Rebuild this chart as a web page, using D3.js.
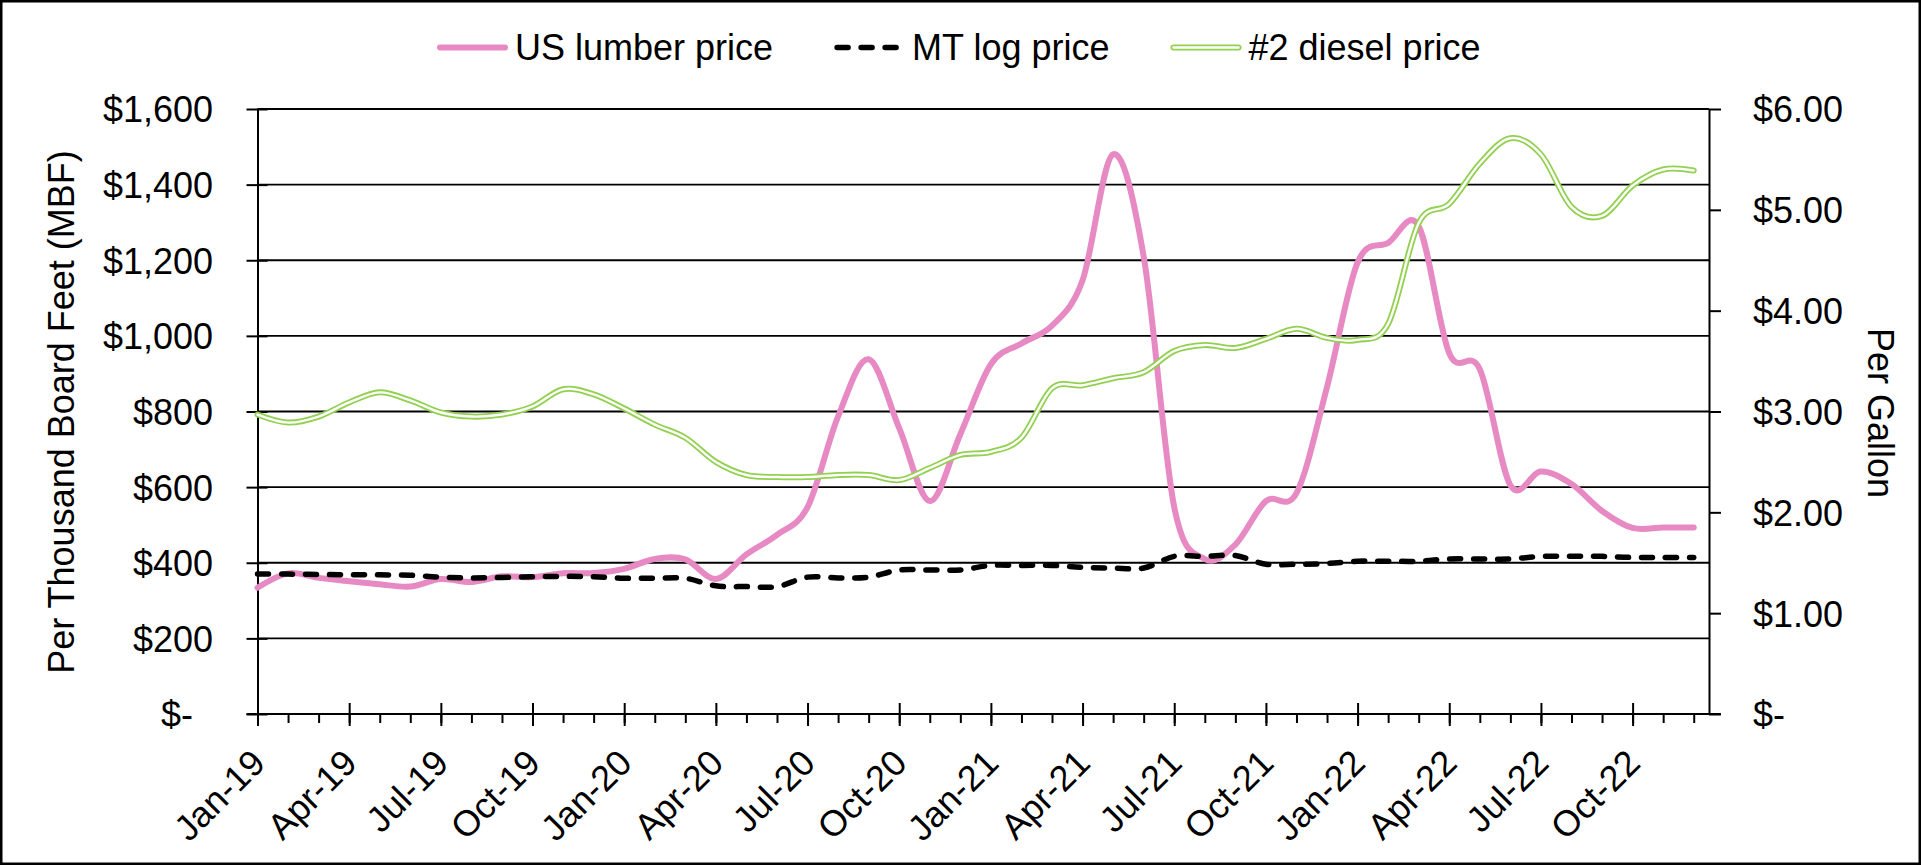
<!DOCTYPE html>
<html>
<head>
<meta charset="utf-8">
<script src="https://cdn.jsdelivr.net/npm/d3@7/dist/d3.min.js"></script>
<style>
  body { margin: 0; padding: 0; background: #fff; }
  svg { display: block; }
  text { font-family: "Liberation Sans", Arial, sans-serif; font-size: 36px; fill: #000; }
</style>
</head>
<body>
<div id="chart"></div>
<script>
// ~~~~~ data ~~~~~
var months = ["Jan-19","Feb-19","Mar-19","Apr-19","May-19","Jun-19","Jul-19","Aug-19","Sep-19","Oct-19","Nov-19","Dec-19",
              "Jan-20","Feb-20","Mar-20","Apr-20","May-20","Jun-20","Jul-20","Aug-20","Sep-20","Oct-20","Nov-20","Dec-20",
              "Jan-21","Feb-21","Mar-21","Apr-21","May-21","Jun-21","Jul-21","Aug-21","Sep-21","Oct-21","Nov-21","Dec-21",
              "Jan-22","Feb-22","Mar-22","Apr-22","May-22","Jun-22","Jul-22","Aug-22","Sep-22","Oct-22","Nov-22","Dec-22"];

// $ per MBF (left axis)
var lumber = [334,372,360,351,343,337,357,349,364,362,372,373,
              384,410,409,357,422,474,547,787,938,756,563,740,
              925,980,1027,1147,1480,1210,547,410,448,563,584,865,
              1194,1246,1290,954,912,605,641,608,537,492,493,493];

var mtLog = [370,370,369,368,368,367,362,360,361,363,364,363,
             359,359,359,339,337,337,362,360,362,381,381,381,
             393,393,393,388,386,386,417,417,419,396,396,398,
             404,404,404,410,410,410,417,417,417,414,414,414];

// $ per gallon (right axis)
var diesel = [2.97,2.89,2.95,3.09,3.19,3.11,2.99,2.95,2.97,3.05,3.22,3.17,
              3.03,2.87,2.74,2.50,2.37,2.35,2.35,2.37,2.37,2.32,2.44,2.57,
              2.60,2.74,3.23,3.26,3.33,3.39,3.60,3.66,3.63,3.72,3.82,3.73,
              3.71,3.87,4.87,5.06,5.46,5.71,5.55,5.03,4.94,5.24,5.40,5.39];

var leftTicks = [0,200,400,600,800,1000,1200,1400,1600];
var rightTicks = [0,1,2,3,4,5,6];
var quarterIdx = [0,3,6,9,12,15,18,21,24,27,30,33,36,39,42,45];

var seriesNames = ["US lumber price","MT log price","#2 diesel price"];
var pink = "#E78AC3", green = "#92D050";

// ~~~~~ setup ~~~~~
var W = 1921, H = 865;
var plotLeft = 257.5, plotRight = 1709, plotTop = 109, plotBottom = 714;

var svg = d3.select("#chart").append("svg").attr("width", W).attr("height", H);
svg.append("rect").attr("x", 1.25).attr("y", 1.25).attr("width", W - 2.5).attr("height", H - 2.5)
  .attr("fill", "#fff").attr("stroke", "#000").attr("stroke-width", 2.5);

var x = d3.scaleLinear().domain([0, 47.5]).range([plotLeft, plotRight]);
var yL = d3.scaleLinear().domain([0, 1600]).range([plotBottom, plotTop]);
var yR = d3.scaleLinear().domain([0, 6]).range([plotBottom, plotTop]);

// gridlines
svg.append("g").selectAll("line").data(leftTicks.filter(d => d > 0)).enter().append("line")
  .attr("x1", plotLeft).attr("x2", plotRight)
  .attr("y1", d => yL(d)).attr("y2", d => yL(d))
  .attr("stroke", "#000").attr("stroke-width", 1.8);

// left axis (ticks cross the axis)
var fmtL = d3.format(",");
var gL = svg.append("g").attr("transform", "translate(" + plotLeft + ",0)")
  .call(d3.axisLeft(yL).tickValues(leftTicks).tickSizeInner(11).tickSizeOuter(0).tickPadding(33.5)
    .tickFormat(d => d === 0 ? "$-" : "$" + fmtL(d)));
gL.selectAll(".tick line").attr("x1", 10).attr("stroke", "#000").attr("stroke-width", 2);
gL.selectAll(".tick text").attr("dy", "0.36em").attr("dx", d => d === 0 ? -20 : 0);

// right axis
var gR = svg.append("g").attr("transform", "translate(" + plotRight + ",0)")
  .call(d3.axisRight(yR).tickValues(rightTicks).tickSizeInner(12).tickSizeOuter(0).tickPadding(32)
    .tickFormat(d => d === 0 ? "$-" : "$" + d3.format(".2f")(d)));
gR.selectAll(".tick line").attr("stroke", "#000").attr("stroke-width", 2);
gR.selectAll(".tick text").attr("dy", "0.36em");

// bottom axis: monthly minor ticks, quarterly major ticks with labels
var gMinor = svg.append("g").attr("transform", "translate(0," + plotBottom + ")")
  .call(d3.axisBottom(x).tickValues(d3.range(months.length)).tickSizeInner(9).tickSizeOuter(0).tickFormat(""));
gMinor.selectAll(".tick line").attr("stroke", "#000").attr("stroke-width", 2);
gMinor.select(".domain").attr("d", "M" + (plotLeft - 11) + ",0H" + (plotRight + 12));

var gMajor = svg.append("g").attr("transform", "translate(0," + plotBottom + ")")
  .call(d3.axisBottom(x).tickValues(quarterIdx).tickSizeInner(12).tickSizeOuter(0).tickFormat(i => months[i]));
gMajor.select(".domain").remove();
gMajor.selectAll(".tick line").attr("y1", -11).attr("stroke", "#000").attr("stroke-width", 2);
gMajor.selectAll(".tick text")
  .attr("x", 0).attr("y", 0).attr("dy", "0.36em")
  .attr("transform", "translate(0,42) rotate(-45)")
  .style("text-anchor", "end");

svg.selectAll(".domain").attr("stroke", "#000").attr("stroke-width", 2);
svg.selectAll(".tick text").style("font-size", "36px").style("font-family", '"Liberation Sans", Arial, sans-serif');

// axis titles
svg.append("text").attr("transform", "translate(74,412) rotate(-90)")
  .attr("text-anchor", "middle").text("Per Thousand Board Feet (MBF)");
svg.append("text").attr("transform", "translate(1868,413) rotate(90)")
  .attr("text-anchor", "middle").text("Per Gallon");

// ~~~~~ series ~~~~~
var lineL = d3.line().x((d, i) => x(i)).y(d => yL(d)).curve(d3.curveCardinal.tension(0));
var lineR = d3.line().x((d, i) => x(i)).y(d => yR(d)).curve(d3.curveCardinal.tension(0));

svg.append("path").datum(lumber).attr("d", lineL)
  .attr("fill", "none").attr("stroke", pink).attr("stroke-width", 6)
  .attr("stroke-linejoin", "round").attr("stroke-linecap", "round");

svg.append("path").datum(mtLog).attr("d", lineL)
  .attr("fill", "none").attr("stroke", "#000").attr("stroke-width", 5.5)
  .attr("stroke-dasharray", "11 13").attr("stroke-linejoin", "round").attr("stroke-linecap", "round");

svg.append("path").datum(diesel).attr("d", lineR)
  .attr("fill", "none").attr("stroke", green).attr("stroke-width", 6)
  .attr("stroke-linejoin", "round").attr("stroke-linecap", "round");
svg.append("path").datum(diesel).attr("d", lineR)
  .attr("fill", "none").attr("stroke", "#fff").attr("stroke-width", 2.4)
  .attr("stroke-linejoin", "round").attr("stroke-linecap", "round");

// ~~~~~ legend ~~~~~
var legend = svg.append("g");
var lx = 440, ly = 47.5;
seriesNames.forEach(function(name, k) {
  var g = legend.append("g");
  if (k === 0) {
    g.append("line").attr("x1", lx).attr("x2", lx + 65).attr("y1", ly).attr("y2", ly)
      .attr("stroke", pink).attr("stroke-width", 6).attr("stroke-linecap", "round");
  } else if (k === 1) {
    g.append("line").attr("x1", lx).attr("x2", lx + 65).attr("y1", ly).attr("y2", ly)
      .attr("stroke", "#000").attr("stroke-width", 5.5).attr("stroke-dasharray", "11 13").attr("stroke-linecap", "round");
  } else {
    g.append("line").attr("x1", lx).attr("x2", lx + 65).attr("y1", ly).attr("y2", ly)
      .attr("stroke", green).attr("stroke-width", 6).attr("stroke-linecap", "round");
    g.append("line").attr("x1", lx).attr("x2", lx + 65).attr("y1", ly).attr("y2", ly)
      .attr("stroke", "#fff").attr("stroke-width", 2.4).attr("stroke-linecap", "round");
  }
  var t = g.append("text").attr("x", lx + 75).attr("y", 60).text(name);
  lx = lx + 75 + t.node().getComputedTextLength() + 64;
});
</script>
</body>
</html>
